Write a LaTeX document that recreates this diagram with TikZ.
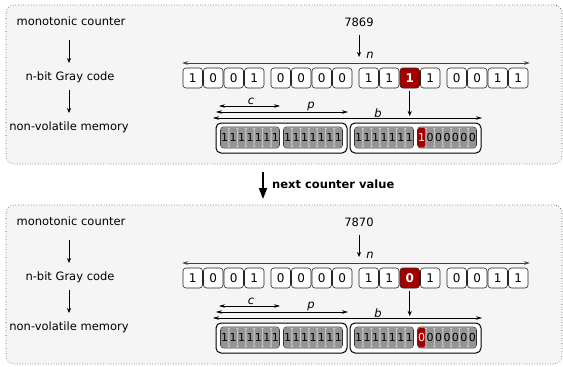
\documentclass[tikz,border=0pt]{standalone}
\usepackage{fontspec}
\setmainfont{DejaVu Sans}
\usetikzlibrary{arrows.meta}
\definecolor{panelbg}{HTML}{F5F5F5}
\definecolor{bitred}{HTML}{A40000}
\begin{document}
\begin{tikzpicture}[x=1pt,y=-1pt,
  every node/.style={font=\fontsize{11.5}{13}\selectfont, inner sep=0pt},
  panel/.style={draw=black!70, dotted, fill=panelbg, rounded corners=8pt, line width=0.6pt},
  bitbox/.style={draw=black!85, fill=white, rounded corners=3pt, minimum width=19.5pt, minimum height=20pt, line width=0.6pt, font=\fontsize{12}{13}\selectfont},
  redbit/.style={bitbox, fill=bitred, text=white, font=\fontsize{12}{13}\selectfont\bfseries},
  page/.style={draw=black, fill=white, rounded corners=5pt, line width=1pt, minimum width=131pt, minimum height=30pt},
  grp/.style={draw=black!80, fill=black!20, rounded corners=3pt, minimum width=59pt, minimum height=21pt, line width=0.6pt},
  mbit/.style={fill=black!42, rounded corners=1.5pt, minimum width=7.4pt, minimum height=19.5pt, font=\fontsize{11}{12}\selectfont},
  mred/.style={mbit, fill=bitred, text=white},
  flow/.style={-{Stealth[length=5pt,width=4pt]}, line width=0.6pt},
  dimline/.style={{Stealth[length=6pt,width=3.5pt]}-{Stealth[length=6pt,width=3.5pt]}, line width=0.6pt},
  nline/.style={{Stealth[length=6pt,width=3.5pt]}-{Stealth[length=6pt,width=3.5pt]}, line width=1pt, draw=black!75},
  lbl/.style={font=\fontsize{11.5}{13}\selectfont\itshape},
]
\useasboundingbox (0,0) rectangle (563,367);
\fill[white] (0,0) rectangle (563,367);

\foreach \oy/\val/\rb in {0/7869/1,200/7870/0} {
\begin{scope}[shift={(0,\oy)}]
  \draw[panel] (6,5) rectangle (562,164);
  % left column
  \node (mc\oy) at (71,21) {monotonic counter};
  \node (gc\oy) at (70,77) {n-bit Gray code};
  \node (nv\oy) at (69,127) {non-volatile memory};
  \coordinate (a1s\oy) at (69,40);
  \coordinate (a1e\oy) at (69,63);
  \coordinate (a2s\oy) at (69,90);
  \coordinate (a2e\oy) at (69,113);
  \draw[flow] (a1s\oy) -- (a1e\oy);
  \draw[flow] (a2s\oy) -- (a2e\oy);
  % counter value
  \node (val\oy) at (359,22) {\val};
  \coordinate (ve\oy) at (359,57);
  \draw[flow] ([yshift=-8pt]val\oy.south) -- (ve\oy);
  % n arrow
  \coordinate (nl\oy) at (182,63);
  \coordinate (nr\oy) at (530,63);
  \draw[nline] (nl\oy) -- (nr\oy);
  \node[lbl] (nlab\oy) at (370,55) {n};
  % bit row
  \foreach \b [count=\i from 0] in {1,0,0,1,0,0,0,0,1,1,\rb,1,0,0,1,1} {
    \pgfmathtruncatemacro\g{\i/4}
    \pgfmathsetmacro\bx{192.75+88*\g+20.5*(\i-4*\g)}
    \ifnum\i=10
      \node[redbit] (bit\oy-\i) at (\bx,78) {\b};
    \else
      \node[bitbox] (bit\oy-\i) at (\bx,78) {\b};
    \fi
  }
  \coordinate (re\oy) at (409.75,116);
  \draw[flow] ([yshift=-3pt]bit\oy-10.south) -- (re\oy);
  % dimension arrows
  \coordinate (cl\oy) at (219,106); \coordinate (cr\oy) at (280,106);
  \coordinate (pl\oy) at (216,112); \coordinate (pr\oy) at (348,112);
  \coordinate (bl\oy) at (213,118); \coordinate (br\oy) at (482,118);
  \draw[dimline] (cl\oy) -- (cr\oy);
  \draw[dimline] (pl\oy) -- (pr\oy);
  \draw[dimline] (bl\oy) -- (br\oy);
  \node[lbl] (clab\oy) at (251,101) {c};
  \node[lbl] (plab\oy) at (311,106) {p};
  \node[lbl] (blab\oy) at (378,113) {b};
  % memory pages
  \node[page] (pg1\oy) at (281.5,138) {};
  \node[page] (pg2\oy) at (415.5,138) {};
  \foreach \gx [count=\q from 0] in {250,313,384,447} {
    \node[grp] (grp\oy-\q) at (\gx,137.5) {};
    \foreach \j in {0,...,6} {
      \pgfmathsetmacro\mx{\gx-29.5+8.43*(\j+0.5)}
      \ifnum\q=3
        \ifnum\j=0
          \node[mred] (mb\oy-\q-\j) at (\mx,137.5) {\rb};
        \else
          \node[mbit] (mb\oy-\q-\j) at (\mx,137.5) {0};
        \fi
      \else
        \node[mbit] (mb\oy-\q-\j) at (\mx,137.5) {1};
      \fi
    }
  }
\end{scope}
}

% transition arrow
\coordinate (ts) at (263,172);
\coordinate (te) at (263,199);
\draw[line width=1.8pt, -{Triangle[length=11pt,width=8pt]}] (ts) -- (te);
\node[anchor=west, font=\fontsize{11.5}{13}\selectfont\bfseries] (next) at (272,184) {next counter value};
\end{tikzpicture}
\end{document}
